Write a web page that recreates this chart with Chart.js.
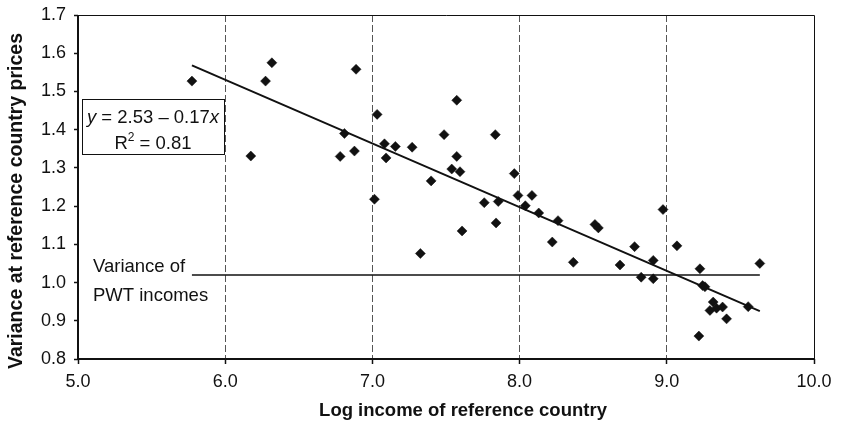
<!DOCTYPE html>
<html>
<head>
<meta charset="utf-8">
<script src="https://cdn.jsdelivr.net/npm/chart.js@4/dist/chart.umd.min.js"></script>
<style>
  html, body { margin: 0; padding: 0; background: #fff; }
  #wrap { width: 844px; height: 427px; }
</style>
</head>
<body>
<div id="wrap"><canvas id="chart" width="844" height="427"></canvas></div>
<script>
// Log income of each reference country
const logIncome = [
  5.774, 6.174, 6.274, 6.317, 6.781, 6.810, 6.878, 6.889, 7.014, 7.032,
  7.082, 7.093, 7.156, 7.270, 7.326, 7.399, 7.487, 7.539, 7.573, 7.573,
  7.595, 7.609, 7.760, 7.835, 7.840, 7.855, 7.964, 7.989, 8.039, 8.084,
  8.130, 8.222, 8.261, 8.365, 8.512, 8.535, 8.682, 8.781, 8.826, 8.908,
  8.908, 8.974, 9.069, 9.218, 9.225, 9.243, 9.259, 9.293, 9.315, 9.338,
  9.379, 9.406, 9.553, 9.632
];
// Variance of incomes valued at that country's prices
const varianceAtRefPrices = [
  1.527, 1.331, 1.527, 1.575, 1.330, 1.390, 1.344, 1.558, 1.218, 1.440,
  1.363, 1.326, 1.356, 1.354, 1.076, 1.266, 1.387, 1.297, 1.477, 1.330,
  1.290, 1.135, 1.209, 1.387, 1.156, 1.212, 1.285, 1.228, 1.201, 1.228,
  1.182, 1.106, 1.162, 1.053, 1.152, 1.143, 1.046, 1.094, 1.014, 1.058,
  1.010, 1.191, 1.096, 0.860, 1.036, 0.992, 0.989, 0.927, 0.949, 0.933,
  0.936, 0.905, 0.937, 1.050
];
const xTicks = [5, 6, 7, 8, 9, 10];
const yTicks = [0.8, 0.9, 1.0, 1.1, 1.2, 1.3, 1.4, 1.5, 1.6, 1.7];

// Fitted line: y = a + b x
const trendIntercept = 2.53;
const trendSlope = -0.1666;
const rSquared = 0.81;
// Variance of PWT incomes (reference level)
const pwtVariance = 1.02;

const xMinData = Math.min(...logIncome);
const xMaxData = Math.max(...logIncome);

const FONT = "'Liberation Sans', Arial, Helvetica, sans-serif";
const INK = '#111';

const points = logIncome.map((x, i) => ({ x, y: varianceAtRefPrices[i] }));
const trendPoints = [xMinData, xMaxData].map(x => ({ x, y: trendIntercept + trendSlope * x }));
const pwtPoints = [xMinData, xMaxData].map(x => ({ x, y: pwtVariance }));

// Frame, axis titles and text annotations
const decorations = {
  id: 'decorations',
  afterDraw(chart) {
    const { ctx, chartArea: a } = chart;
    ctx.save();
    // plot frame
    ctx.strokeStyle = INK;
    ctx.lineWidth = 1;
    ctx.beginPath();
    ctx.moveTo(a.left, a.top + 0.5);
    ctx.lineTo(a.right + 0.5, a.top + 0.5);
    ctx.lineTo(a.right + 0.5, a.bottom);
    ctx.stroke();
    ctx.lineWidth = 2;
    ctx.beginPath();
    ctx.moveTo(a.left, a.top);
    ctx.lineTo(a.left, a.bottom);
    ctx.lineTo(a.right + 1, a.bottom);
    ctx.stroke();

    // axis titles
    ctx.fillStyle = INK;
    ctx.textAlign = 'center';
    ctx.textBaseline = 'middle';
    ctx.font = 'bold 18.5px ' + FONT;
    ctx.fillText('Log income of reference country', 463, 411);
    ctx.save();
    ctx.translate(17, 201);
    ctx.rotate(-Math.PI / 2);
    ctx.font = 'bold 19.5px ' + FONT;
    ctx.fillText('Variance at reference country prices', 0, 0);
    ctx.restore();

    // regression box
    const bx = 82, by = 99, bw = 142, bh = 55;
    ctx.fillStyle = '#fff';
    ctx.fillRect(bx, by, bw, bh);
    ctx.lineWidth = 1;
    ctx.strokeStyle = INK;
    ctx.strokeRect(bx + 0.5, by + 0.5, bw, bh);
    ctx.fillStyle = INK;
    ctx.textAlign = 'left';
    ctx.textBaseline = 'alphabetic';
    const normal = '18.5px ' + FONT;
    const italic = 'italic 18.5px ' + FONT;
    const mid = ' = ' + trendIntercept.toFixed(2) + ' \u2013 ' + Math.abs(trendSlope).toFixed(2);
    const segs = [[italic, 'y'], [normal, mid], [italic, 'x']];
    let total = 0;
    segs.forEach(s => { ctx.font = s[0]; total += ctx.measureText(s[1]).width; });
    let cx = bx + bw / 2 - total / 2;
    segs.forEach(s => { ctx.font = s[0]; ctx.fillText(s[1], cx, 123); cx += ctx.measureText(s[1]).width; });

    const r2 = [[normal, 'R', 0], ['12px ' + FONT, '2', -8], [normal, ' = ' + rSquared.toFixed(2), 0]];
    total = 0;
    r2.forEach(s => { ctx.font = s[0]; total += ctx.measureText(s[1]).width; });
    cx = bx + bw / 2 - total / 2;
    r2.forEach(s => { ctx.font = s[0]; ctx.fillText(s[1], cx, 149 + s[2]); cx += ctx.measureText(s[1]).width; });

    // label for the PWT reference line
    ctx.font = '18.5px ' + FONT;
    ctx.textBaseline = 'middle';
    ctx.fillText('Variance of', 93, 267);
    ctx.fillText('PWT incomes', 93, 296);
    ctx.restore();
  }
};

new Chart(document.getElementById('chart'), {
  type: 'scatter',
  data: {
    datasets: [
      {
        type: 'line',
        data: pwtPoints,
        borderColor: INK,
        borderWidth: 1.5,
        pointRadius: 0,
        fill: false
      },
      {
        type: 'line',
        data: trendPoints,
        borderColor: INK,
        borderWidth: 2,
        pointRadius: 0,
        fill: false
      },
      {
        data: points,
        pointStyle: 'rectRot',
        pointRadius: 5,
        backgroundColor: INK,
        borderColor: INK,
        borderWidth: 0.5
      }
    ]
  },
  plugins: [decorations],
  options: {
    responsive: false,
    animation: false,
    devicePixelRatio: 1,
    layout: { padding: { top: 15, right: 30, left: 0, bottom: 0 } },
    plugins: { legend: { display: false }, tooltip: { enabled: false } },
    scales: {
      x: {
        type: 'linear',
        min: 5,
        max: 10,
        afterBuildTicks: s => { s.ticks = xTicks.map(v => ({ value: v })); },
        afterFit: s => { s.height = 68; s.paddingLeft = 0; s.paddingRight = 0; },
        ticks: {
          padding: 7,
          color: INK,
          font: { family: FONT, size: 18 },
          callback: v => Number(v).toFixed(1)
        },
        grid: {
          color: c => (c.tick && c.tick.value > 5 && c.tick.value < 10) ? '#555' : 'rgba(0,0,0,0)',
          lineWidth: 1,
          drawTicks: true,
          tickLength: 5,
          tickColor: INK,
          tickWidth: 1.5,
          tickBorderDash: []
        },
        border: { display: false, dash: [7, 3] }
      },
      y: {
        type: 'linear',
        min: 0.8,
        max: 1.7,
        afterBuildTicks: s => { s.ticks = yTicks.map(v => ({ value: v })); },
        afterFit: s => { s.width = 78; s.paddingTop = 0; s.paddingBottom = 0; },
        ticks: {
          padding: 8,
          color: INK,
          font: { family: FONT, size: 18 },
          callback: v => Number(v).toFixed(1)
        },
        grid: {
          drawOnChartArea: false,
          drawTicks: true,
          tickLength: 4,
          tickColor: INK,
          tickWidth: 1.5
        },
        border: { display: false }
      }
    }
  }
});
</script>
</body>
</html>
